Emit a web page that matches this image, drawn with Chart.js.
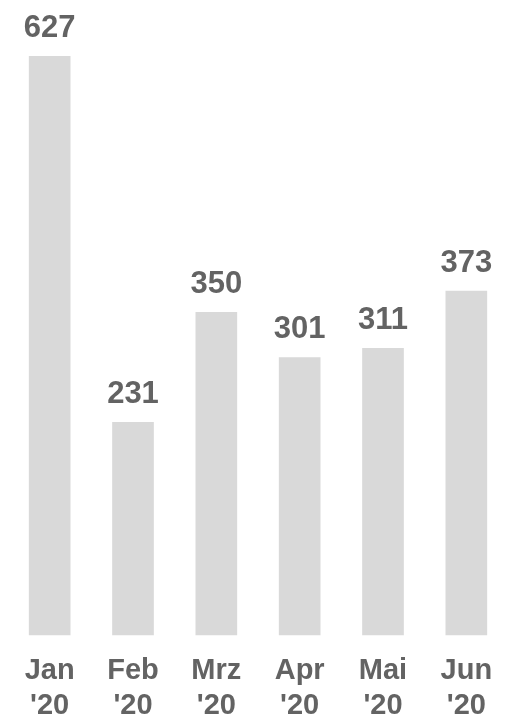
<!DOCTYPE html>
<html>
<head>
<meta charset="utf-8">
<script src="https://cdn.jsdelivr.net/npm/chart.js@4"></script>
<style>
  html, body { margin: 0; padding: 0; background: #fff; }
  #wrap { width: 512px; height: 715px; }
</style>
</head>
<body>
<div id="wrap"><canvas id="chart" width="512" height="715"></canvas></div>
<script>
const months = ['Jan', 'Feb', 'Mrz', 'Apr', 'Mai', 'Jun'];
const years = ["'20", "'20", "'20", "'20", "'20", "'20"];
const values = [627, 231, 350, 301, 311, 373];

const textColor = '#636363';
const fontFamily = '"Liberation Sans", Arial, sans-serif';

// simple value labels above each bar
const valueLabels = {
  id: 'valueLabels',
  afterDatasetsDraw(chart) {
    const { ctx } = chart;
    const meta = chart.getDatasetMeta(0);
    ctx.save();
    ctx.fillStyle = textColor;
    ctx.font = 'bold 31px ' + fontFamily;
    ctx.textAlign = 'center';
    ctx.textBaseline = 'alphabetic';
    meta.data.forEach((bar, i) => {
      ctx.fillText(values[i], bar.x, bar.y - 19);
    });
    ctx.restore();
  }
};

new Chart(document.getElementById('chart'), {
  type: 'bar',
  data: {
    labels: months.map((m, i) => [m, years[i]]),
    datasets: [{
      data: values,
      backgroundColor: '#d9d9d9',
      barPercentage: 0.5,
      categoryPercentage: 1
    }]
  },
  options: {
    responsive: false,
    animation: false,
    layout: { padding: { top: 56, left: 8, right: 4, bottom: -18 } },
    plugins: {
      legend: { display: false },
      tooltip: { enabled: false }
    },
    scales: {
      x: {
        grid: { display: false },
        border: { display: false },
        ticks: {
          color: textColor,
          padding: 10,
          font: { family: fontFamily, size: 29, weight: 'bold', lineHeight: 1.2 }
        }
      },
      y: {
        display: false,
        min: 0,
        max: 627
      }
    }
  },
  plugins: [valueLabels]
});
</script>
</body>
</html>
